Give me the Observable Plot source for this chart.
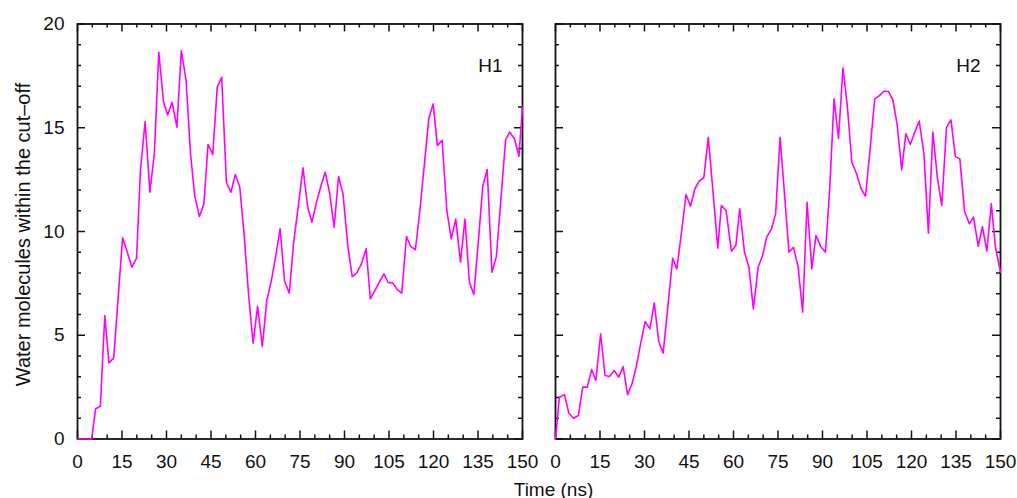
<!DOCTYPE html>
<html>
<head>
<meta charset="utf-8">
<script src="https://cdn.jsdelivr.net/npm/d3@7"></script>
<script src="https://cdn.jsdelivr.net/npm/@observablehq/plot@0.6"></script>
<style>
  html, body { margin: 0; padding: 0; background: #fff; }
</style>
</head>
<body>
<div id="chart"></div>
<script>
// ---- data ----
const panels = ["H1", "H2"];

const h1Time = [0, 1.5, 3, 4.8, 6.1, 7.7, 9.2, 10.6, 12.2, 13.7, 15.2, 16.8, 18.3, 19.9, 21.2, 22.8, 24.4, 25.9, 27.4, 29.0,
  30.4, 31.9, 33.5, 35.0, 36.6, 38.1, 39.5, 41.1, 42.6, 44.0, 45.6, 47.1, 48.6, 50.2, 51.7, 53.2, 54.7, 56.2, 57.7, 59.2,
  60.7, 62.3, 63.8, 65.3, 66.8, 68.3, 69.8, 71.4, 72.8, 74.4, 76.0, 77.6, 79.0, 80.7, 82.1, 83.5, 85.0, 86.5, 88.0, 89.5,
  91.1, 92.6, 94.1, 95.7, 97.3, 98.7, 100.3, 101.9, 103.3, 104.8, 106.2, 107.8, 109.3, 110.9, 112.3, 113.9, 115.4, 116.9, 118.4, 119.9,
  121.3, 122.9, 124.5, 126.0, 127.5, 129.1, 130.6, 132.1, 133.6, 135.1, 136.6, 138.1, 139.7, 141.2, 142.7, 144.3, 145.7, 147.3, 148.8, 150];
const h1Water = [0, 0, 0, 0, 1.46, 1.58, 5.95, 3.67, 3.9, 6.8, 9.7, 9.0, 8.28, 8.71, 12.94, 15.3, 11.9, 13.74, 18.64, 16.23,
  15.62, 16.23, 15.03, 18.72, 17.28, 13.74, 11.73, 10.72, 11.33, 14.19, 13.71, 16.96, 17.44, 12.36, 11.89, 12.75, 12.14, 9.8, 6.9, 4.62,
  6.39, 4.46, 6.67, 7.6, 8.8, 10.13, 7.6, 7.03, 9.4, 11.2, 13.07, 11.17, 10.45, 11.49, 12.22, 12.86, 11.85, 10.21, 12.65, 11.82,
  9.33, 7.83, 7.99, 8.44, 9.17, 6.76, 7.16, 7.61, 7.96, 7.53, 7.53, 7.2, 7.03, 9.76, 9.28, 9.12, 11.0, 13.2, 15.43, 16.15,
  14.14, 14.39, 11.01, 9.65, 10.6, 8.52, 10.6, 7.56, 6.96, 9.5, 12.17, 12.99, 8.04, 8.8, 11.5, 14.42, 14.79, 14.47, 13.63, 15.99];

const h2Time = [0, 1.3, 3.0, 4.5, 6.1, 7.7, 9.2, 10.7, 12.2, 13.6, 15.2, 16.7, 18.2, 19.8, 21.3, 22.8, 24.3, 25.8, 27.2, 28.8,
  30.2, 31.8, 33.3, 34.8, 36.3, 37.9, 39.5, 40.9, 42.5, 44.0, 45.5, 47.0, 48.4, 50.0, 51.5, 53.1, 54.7, 55.9, 57.5, 59.3,
  60.8, 62.1, 63.7, 65.2, 66.7, 68.3, 69.8, 71.2, 72.8, 74.2, 75.7, 77.2, 78.7, 80.2, 81.8, 83.3, 84.8, 86.4, 87.8, 89.4,
  91.0, 92.4, 93.9, 95.4, 96.9, 98.4, 99.9, 101.5, 103.0, 104.5, 106.0, 107.6, 109.2, 110.7, 112.2, 113.7, 115.2, 116.7, 118.1, 119.6,
  121.0, 122.6, 124.2, 125.7, 127.2, 128.7, 130.2, 131.8, 133.3, 134.8, 136.3, 137.9, 139.5, 140.9, 142.5, 143.9, 145.4, 146.9, 148.3, 150];
const h2Water = [0, 2.01, 2.14, 1.24, 1.0, 1.13, 2.5, 2.5, 3.35, 2.82, 5.07, 3.06, 3.01, 3.3, 2.98, 3.49, 2.14, 2.66, 3.46, 4.67,
  5.66, 5.31, 6.56, 4.7, 4.14, 6.43, 8.71, 8.2, 10.0, 11.78, 11.22, 12.06, 12.43, 12.59, 14.54, 11.9, 9.2, 11.25, 11.01, 9.05,
  9.33, 11.09, 9.0, 8.28, 6.27, 8.28, 8.84, 9.73, 10.13, 10.85, 14.54, 11.8, 9.0, 9.24, 8.28, 6.11, 11.41, 8.2, 9.81, 9.28,
  9.0, 11.98, 16.39, 14.47, 17.89, 15.99, 13.34, 12.78, 12.06, 11.7, 13.9, 16.39, 16.55, 16.76, 16.75, 16.35, 15.11, 12.97, 14.71, 14.19,
  14.76, 15.32, 13.74, 9.92, 14.79, 12.62, 11.25, 15.03, 15.38, 13.61, 13.5, 10.96, 10.37, 10.69, 9.28, 10.24, 9.05, 11.33, 9.24, 8.04];

const xTickLabels = [0, 15, 30, 45, 60, 75, 90, 105, 120, 135, 150];
const xMinorTicks = [5, 10, 20, 25, 35, 40, 50, 55, 65, 70, 80, 85, 95, 100, 110, 115, 125, 130, 140, 145];
const yTickLabels = [0, 5, 10, 15, 20];
const yMinorTicks = [1, 2, 3, 4, 6, 7, 8, 9, 11, 12, 13, 14, 16, 17, 18, 19];

const xLabel = "Time (ns)";
const yLabel = "Water molecules within the cut\u2013off";

// ---- layout ----
const W = 1017, H = 498;
const mL = 77, mR = 17, mT = 23.5, mB = 59.5;
const gap = 33;
const panelW = (W - mL - mR - gap) / 2;
const panelH = H - mT - mB;
const padInner = gap / (panelW + gap);
const font = '"Liberation Sans", Arial, Helvetica, sans-serif';
const ink = "#111";

const rows = [
  ...h1Time.map((t, i) => ({panel: "H1", t, v: h1Water[i]})),
  ...h2Time.map((t, i) => ({panel: "H2", t, v: h2Water[i]}))
];

const chart = Plot.plot({
  width: W,
  height: H,
  marginLeft: mL,
  marginRight: mR,
  marginTop: mT,
  marginBottom: mB,
  style: {fontFamily: font, fontSize: "19px", color: ink, background: "#fff", overflow: "visible"},
  x: {domain: [0, 150]},
  y: {domain: [0, 20]},
  fx: {domain: panels, paddingInner: padInner, paddingOuter: 0, axis: null},
  marks: [
    Plot.frame({stroke: ink, strokeWidth: 1.8}),
    // inward ticks on all four sides
    Plot.tickX(xTickLabels, {x: d => d, insetTop: panelH - 8, stroke: ink, strokeWidth: 1.5}),
    Plot.tickX(xTickLabels, {x: d => d, insetBottom: panelH - 8, stroke: ink, strokeWidth: 1.5}),
    Plot.tickX(xMinorTicks, {x: d => d, insetTop: panelH - 4, stroke: ink, strokeWidth: 1.5}),
    Plot.tickX(xMinorTicks, {x: d => d, insetBottom: panelH - 4, stroke: ink, strokeWidth: 1.5}),
    Plot.tickY(yTickLabels, {y: d => d, insetRight: panelW - 8, stroke: ink, strokeWidth: 1.5}),
    Plot.tickY(yTickLabels, {y: d => d, insetLeft: panelW - 8, stroke: ink, strokeWidth: 1.5}),
    Plot.tickY(yMinorTicks, {y: d => d, insetRight: panelW - 4, stroke: ink, strokeWidth: 1.5}),
    Plot.tickY(yMinorTicks, {y: d => d, insetLeft: panelW - 4, stroke: ink, strokeWidth: 1.5}),
    Plot.line(rows, {fx: "panel", x: "t", y: "v", stroke: "#ff00ff", strokeWidth: 1.6}),
    Plot.axisX({ticks: xTickLabels, tickSize: 0, tickPadding: 15, label: null, fontSize: 19, fill: ink}),
    Plot.axisY({ticks: yTickLabels, tickSize: 0, tickPadding: 13, label: null, fontSize: 19, fill: ink}),
    Plot.text(panels, {fx: d => d, text: d => d, frameAnchor: "top-right", dx: -20, dy: 42,
      textAnchor: "end", lineAnchor: "middle", fontSize: 19, fill: ink}),
    Plot.text([yLabel], {facet: "super", text: d => d, frameAnchor: "left", rotate: -90, dx: -62, dy: 3,
      textAnchor: "middle", lineAnchor: "top", fontSize: 20, fill: ink}),
    Plot.text([xLabel], {facet: "super", text: d => d, frameAnchor: "bottom", dx: 14.5, dy: 50.5,
      textAnchor: "middle", lineAnchor: "middle", fontSize: 19, fill: ink})
  ]
});

document.getElementById("chart").appendChild(chart);
</script>
</body>
</html>
